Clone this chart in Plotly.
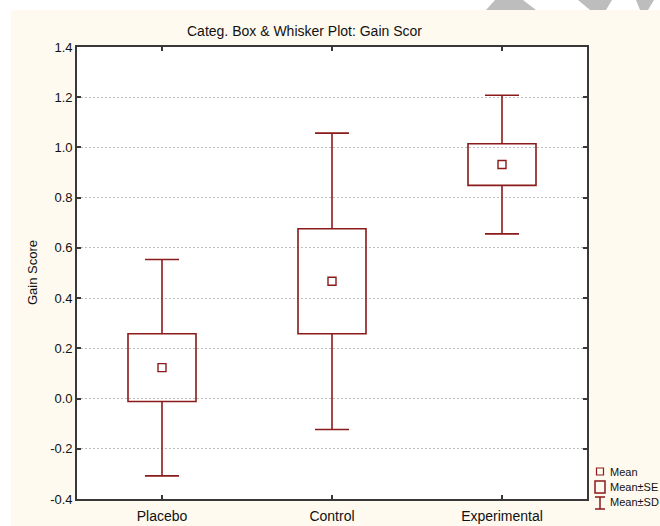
import plotly.graph_objects as go

# ---- data ----
categories = ["Placebo", "Control", "Experimental"]
means = [0.123, 0.467, 0.932]
se = [0.135, 0.209, 0.083]
sd = [0.431, 0.590, 0.276]
y_ticks = [-0.4, -0.2, 0.0, 0.2, 0.4, 0.6, 0.8, 1.0, 1.2, 1.4]
y_tick_labels = ["-0.4", "-0.2", "0.0", "0.2", "0.4", "0.6", "0.8", "1.0", "1.2", "1.4"]

RED = "#8b1a1a"
CREAM = "#fffaf0"
W, H = 660, 526
L, R, T, B = 77, 587, 47, 499


def px_x(p):
    return (p - L) / (R - L)


def px_y(p):
    return (B - p) / (B - T)


pos = list(range(len(categories)))
q1 = [m - s for m, s in zip(means, se)]
q3 = [m + s for m, s in zip(means, se)]
box_h = [2 * s for s in se]
lo = [m - s for m, s in zip(means, sd)]
hi = [m + s for m, s in zip(means, sd)]

BOX_W = 0.4
CAP = 0.1

wx, wy = [], []
for i, a, b, c, d in zip(pos, lo, q1, q3, hi):
    wx += [i, i, None, i, i, None, i - CAP, i + CAP, None, i - CAP, i + CAP, None]
    wy += [a, b, None, c, d, None, a, a, None, d, d, None]

fig = go.Figure()
fig.add_trace(go.Bar(
    x=pos, y=box_h, base=q1, width=BOX_W,
    marker=dict(color="rgba(0,0,0,0)", line=dict(color=RED, width=1.6)),
    showlegend=False, hoverinfo="skip",
))
fig.add_trace(go.Scatter(
    x=wx, y=wy, mode="lines", line=dict(color=RED, width=1.6),
    showlegend=False, hoverinfo="skip",
))
fig.add_trace(go.Scatter(
    x=pos, y=means, mode="markers",
    marker=dict(symbol="square-open", size=8, color=RED, line=dict(width=1.4, color=RED)),
    showlegend=False, hoverinfo="skip",
))

shapes = []
# white strips outside the cream page
shapes.append(dict(type="rect", xref="paper", yref="paper",
                   x0=px_x(-2), x1=px_x(11), y0=px_y(530), y1=px_y(-2),
                   fillcolor="white", line=dict(width=0)))
shapes.append(dict(type="rect", xref="paper", yref="paper",
                   x0=px_x(-2), x1=px_x(664), y0=px_y(10), y1=px_y(-2),
                   fillcolor="white", line=dict(width=0)))


def poly(pts, color="#bdbdbd"):
    d = "M " + " L ".join(f"{px_x(a)},{px_y(b)}" for a, b in pts) + " Z"
    return dict(type="path", xref="paper", yref="paper", path=d,
                fillcolor=color, line=dict(width=0))


shapes.append(poly([(495, 0), (523, 0), (536, 10), (486, 10)]))
shapes.append(poly([(578, 0), (612, 0), (606, 10), (590, 10)]))
shapes.append(poly([(636, 0), (654, 0), (648, 10), (640, 10)]))

# legend symbols
shapes.append(dict(type="rect", xref="paper", yref="paper",
                   x0=px_x(596.5), x1=px_x(603.5), y0=px_y(475), y1=px_y(468),
                   line=dict(color=RED, width=1.2)))
shapes.append(dict(type="rect", xref="paper", yref="paper",
                   x0=px_x(595), x1=px_x(605), y0=px_y(493), y1=px_y(481),
                   line=dict(color=RED, width=1.5)))
for (x0, y0, x1, y1) in [(600, 497, 600, 509), (595, 497, 605, 497), (595, 509, 605, 509)]:
    shapes.append(dict(type="line", xref="paper", yref="paper",
                       x0=px_x(x0), x1=px_x(x1), y0=px_y(y0), y1=px_y(y1),
                       line=dict(color=RED, width=1.5)))

annotations = [
    dict(text="Categ. Box & Whisker Plot: Gain Scor", x=px_x(185), y=px_y(31),
         xref="paper", yref="paper", xanchor="left", yanchor="middle",
         showarrow=False, font=dict(size=14, color="#111")),
    dict(text="Gain Score", x=px_x(32), y=px_y(273), xref="paper", yref="paper",
         textangle=-90, xanchor="center", yanchor="middle", showarrow=False,
         font=dict(size=13, color="#111")),
]
for label, yy in [("Mean", 472), ("Mean±SE", 487), ("Mean±SD", 502)]:
    annotations.append(dict(text=label, x=px_x(608), y=px_y(yy), xref="paper", yref="paper",
                            xanchor="left", yanchor="middle", showarrow=False,
                            font=dict(size=11, color="#111")))

fig.update_layout(
    width=W, height=H,
    margin=dict(l=L, r=W - R, t=T, b=H - B, pad=0, autoexpand=False),
    paper_bgcolor=CREAM, plot_bgcolor="white",
    font=dict(family="Liberation Sans, Arial, sans-serif", color="#111"),
    shapes=shapes, annotations=annotations, showlegend=False,
)
fig.update_xaxes(
    range=[-0.5, 2.5], tickvals=pos, ticktext=categories, showgrid=False, automargin=False,
    zeroline=False, showline=True, linecolor="#383838", linewidth=1.6, mirror="ticks",
    ticks="inside", ticklen=4, tickcolor="#383838", tickwidth=1.5,
    tickfont=dict(size=14), ticklabelstandoff=3,
)
fig.update_yaxes(
    range=[-0.4, 1.4], tickvals=y_ticks, ticktext=y_tick_labels, automargin=False,
    showgrid=True, gridcolor="#bdbdbd", griddash="2px,2px", gridwidth=1,
    zeroline=False, showline=True, linecolor="#383838", linewidth=1.6, mirror="ticks",
    ticks="inside", ticklen=4, tickcolor="#383838", tickwidth=1.5,
    tickfont=dict(size=13), ticklabelstandoff=0,
)

# remove the default 8px page margin so the 660x526 figure fills the window exactly
fig.write_html(
    "out.html",
    config={"displayModeBar": False},
    post_script="document.body.style.margin='0';document.documentElement.style.overflow='hidden';",
)
